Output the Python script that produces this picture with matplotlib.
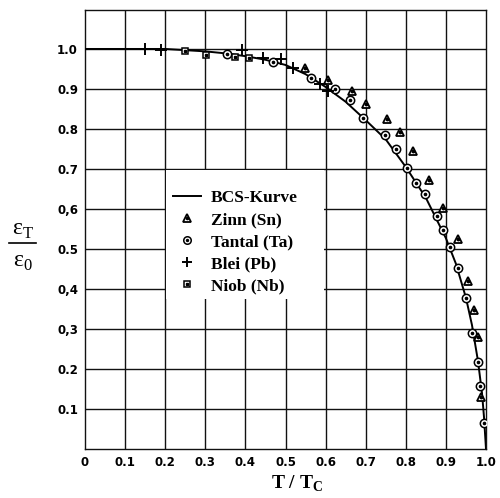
import matplotlib
matplotlib.use("Agg")
import matplotlib.pyplot as plt
from matplotlib.patches import Rectangle
from matplotlib.lines import Line2D
from matplotlib.legend_handler import HandlerTuple

# ---- data ----
bcs_t = [0.0, 0.2, 0.3, 0.35, 0.4, 0.45, 0.5, 0.55, 0.6, 0.65, 0.7, 0.75, 0.8,
         0.85, 0.9, 0.925, 0.95, 0.965, 0.98, 0.99, 0.995, 1.0]
bcs_e = [1.0, 1.0, 0.994, 0.989, 0.982, 0.973, 0.96, 0.937, 0.905, 0.868, 0.822,
         0.774, 0.705, 0.628, 0.527, 0.463, 0.378, 0.31, 0.22, 0.14, 0.08, 0.0]

zinn_t = [0.548, 0.605, 0.665, 0.70, 0.752, 0.785, 0.819, 0.859, 0.892, 0.929,
          0.954, 0.969, 0.979, 0.988]
zinn_e = [0.952, 0.922, 0.895, 0.862, 0.825, 0.792, 0.745, 0.672, 0.602, 0.524,
          0.42, 0.348, 0.28, 0.13]

tantal_t = [0.353, 0.469, 0.563, 0.623, 0.66, 0.693, 0.747, 0.775, 0.802, 0.825,
            0.847, 0.879, 0.894, 0.909, 0.929, 0.949, 0.964, 0.981, 0.986, 0.996]
tantal_e = [0.987, 0.967, 0.928, 0.90, 0.873, 0.828, 0.785, 0.75, 0.702, 0.664,
            0.637, 0.582, 0.548, 0.504, 0.452, 0.377, 0.29, 0.218, 0.157, 0.066]

blei_t = [0.15, 0.19, 0.392, 0.443, 0.49, 0.518, 0.585, 0.606]
blei_e = [1.0, 0.998, 0.997, 0.978, 0.975, 0.952, 0.913, 0.895]

niob_t = [0.249, 0.301, 0.374, 0.41]
niob_e = [0.995, 0.985, 0.98, 0.977]

x_ticks = [0.0, 0.1, 0.2, 0.3, 0.4, 0.5, 0.6, 0.7, 0.8, 0.9, 1.0]
x_labels = ["0", "0.1", "0.2", "0.3", "0.4", "0.5", "0.6", "0.7", "0.8", "0.9", "1.0"]
y_ticks = [0.1, 0.2, 0.3, 0.4, 0.5, 0.6, 0.7, 0.8, 0.9, 1.0]
y_labels = ["0.1", "0.2", "0,3", "0,4", "0.5", "0,6", "0.7", "0.8", "0.9", "1.0"]

legend_labels = ["BCS-Kurve", "Zinn (Sn)", "Tantal (Ta)", "Blei (Pb)", "Niob (Nb)"]

# ---- figure ----
fig = plt.figure(figsize=(5.0, 4.98), dpi=100)
ax = fig.add_axes([0.17, 0.0984, 0.802, 0.8816])
ax.set_xlim(0, 1.0)
ax.set_ylim(0, 1.0975)

for xv in x_ticks[1:-1]:
    ax.axvline(xv, color="#111111", lw=1.0, zorder=1)
for yv in y_ticks:
    ax.axhline(yv, color="#111111", lw=1.0, zorder=1)

# white area behind legend interrupting the grid
ax.add_patch(Rectangle((0.203, 0.376), 0.394, 0.321, facecolor="white",
                       edgecolor="none", zorder=2))

line_bcs, = ax.plot(bcs_t, bcs_e, color="black", lw=1.4, zorder=3)

ms = 6
zinn_m, = ax.plot(zinn_t, zinn_e, ls="none", marker="^", ms=ms, mfc="white",
                  mec="black", mew=1.3, zorder=4)
zinn_d, = ax.plot(zinn_t, zinn_e, ls="none", marker="o", ms=1.8, color="black",
                  zorder=5)
tan_m, = ax.plot(tantal_t, tantal_e, ls="none", marker="o", ms=ms, mfc="white",
                 mec="black", mew=1.1, zorder=4)
tan_d, = ax.plot(tantal_t, tantal_e, ls="none", marker="o", ms=1.6, color="black",
                 zorder=5)
blei_m, = ax.plot(blei_t, blei_e, ls="none", marker="+", ms=8, color="black",
                  mew=1.4, zorder=4)
niob_m, = ax.plot(niob_t, niob_e, ls="none", marker="s", ms=5, mfc="white",
                  mec="black", mew=1.1, zorder=4)
niob_d, = ax.plot(niob_t, niob_e, ls="none", marker="s", ms=1.6, color="black",
                  zorder=5)

handles = [line_bcs, (zinn_m, zinn_d), (tan_m, tan_d), blei_m, (niob_m, niob_d)]
leg = ax.legend(handles, legend_labels, loc="upper left",
                bbox_to_anchor=(0.19, 0.618), frameon=False,
                handler_map={tuple: HandlerTuple(ndivide=1, pad=0)},
                prop={"family": "Liberation Serif", "weight": "bold", "size": 12.5},
                handlelength=1.6, handletextpad=0.55, labelspacing=0.34,
                borderpad=0.2, markerscale=0.9)
leg.set_zorder(6)

ax.set_xticks(x_ticks)
ax.set_xticklabels(x_labels)
ax.set_yticks(y_ticks)
ax.set_yticklabels(y_labels)
ax.tick_params(length=0, pad=5)
for lab in ax.get_xticklabels() + ax.get_yticklabels():
    lab.set_fontfamily("DejaVu Sans")
    lab.set_fontweight("bold")
    lab.set_fontsize(8.5)
for sp in ax.spines.values():
    sp.set_linewidth(1.0)
    sp.set_color("#111111")

ax.set_xlabel(r"T / T$_\mathregular{C}$", family="Liberation Serif",
              weight="bold", fontsize=14)
ax.xaxis.set_label_coords(0.53, -0.056)
ax.xaxis.label.set_va("top")

# y label as a fraction
fig.text(0.045, 0.538, r"ε$_\mathregular{T}$", family="Liberation Serif",
         fontsize=17, ha="center", va="center")
fig.text(0.045, 0.472, r"ε$_\mathregular{0}$", family="Liberation Serif",
         fontsize=17, ha="center", va="center")
fig.add_artist(Line2D([0.018, 0.072], [0.513, 0.513], color="black", lw=1.2,
                      transform=fig.transFigure))

fig.savefig("out.png", dpi=100)
